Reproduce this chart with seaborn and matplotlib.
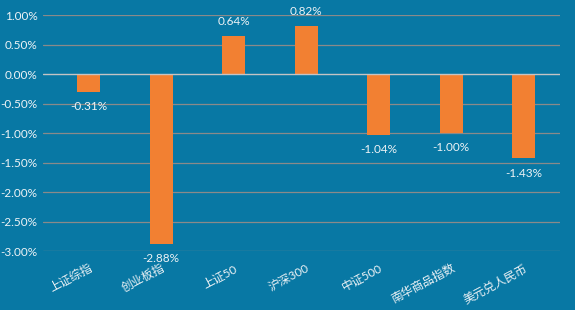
import matplotlib
matplotlib.use("Agg")
import matplotlib.pyplot as plt
import seaborn as sns
import pandas as pd
from matplotlib.ticker import FuncFormatter

categories = ["上证综指", "创业板指", "上证50", "沪深300", "中证500", "南华商品指数", "美元兑人民币"]
values = [-0.31, -2.88, 0.64, 0.82, -1.04, -1.00, -1.43]
yticks = [1.0, 0.5, 0.0, -0.5, -1.0, -1.5, -2.0, -2.5, -3.0]

sns.set_style("white")
plt.rcParams['font.family'] = ['Lato', 'Noto Sans CJK SC', 'DejaVu Sans']

bg = "#0878a4"
txt = "#eef3f6"
df = pd.DataFrame({"cat": categories, "val": values})

fig = plt.figure(figsize=(5.75, 3.1), dpi=100, facecolor=bg)
ax = fig.add_axes([0.0748, 0.19, 0.974 - 0.0748, 0.9516 - 0.19])
ax.set_facecolor(bg)

sns.barplot(data=df, x="cat", y="val", color="#f28032", saturation=1, width=0.32,
            linewidth=0, edgecolor="none", ax=ax, zorder=3)

ax.set_ylim(-3.0, 1.0)
ax.set_xlim(-0.63, 6.5)
ax.set_yticks(yticks)
ax.yaxis.set_major_formatter(FuncFormatter(lambda v, p: f"{v:.2f}%"))
for t in yticks:
    if t == 0:
        ax.axhline(t, color="#c4c4c4", lw=1.0, zorder=4)
    else:
        ax.axhline(t, color="#8a8a8a", lw=0.9, zorder=1)

for s in ax.spines.values():
    s.set_visible(False)
ax.tick_params(axis="both", length=0, colors=txt, labelsize=8.5)
ax.tick_params(axis="y", pad=4)
ax.set_xlabel("")
ax.set_ylabel("")
ax.set_xticks(range(len(categories)))
ax.set_xticklabels(categories, rotation=28, ha="right", rotation_mode="anchor", color=txt, fontsize=8.5)
ax.tick_params(axis="x", pad=8)

for i, v in enumerate(values):
    off = 10.5 if v > 0 else -10.5
    ax.annotate(f"{v:.2f}%", xy=(i, v), xytext=(0, off), textcoords="offset points",
                ha="center", va="center", color=txt, fontsize=8.5, zorder=5)

fig.savefig("out.png", dpi=100, facecolor=bg)
